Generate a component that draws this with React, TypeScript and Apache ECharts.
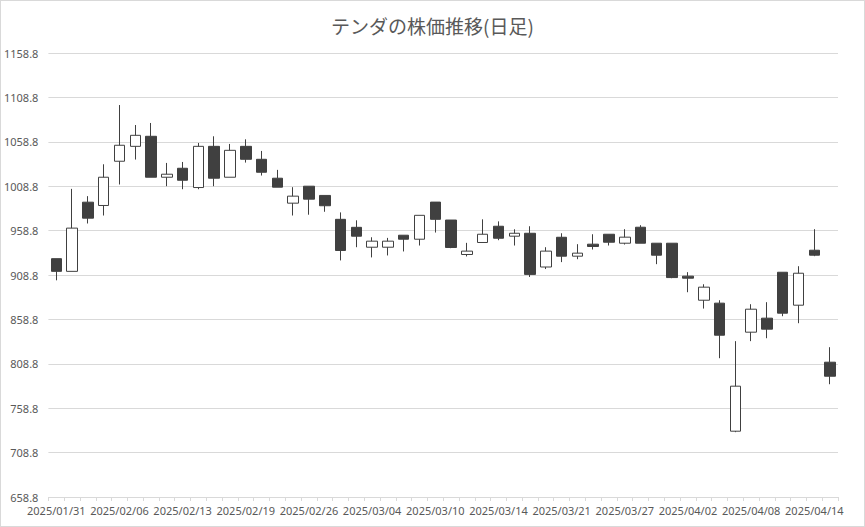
import React, { useEffect, useRef } from "react";
import * as echarts from "echarts";

const dates = [
  "2025/01/31", "2025/02/03", "2025/02/04", "2025/02/05", "2025/02/06", "2025/02/07", "2025/02/10", "2025/02/12",
  "2025/02/13", "2025/02/14", "2025/02/17", "2025/02/18", "2025/02/19", "2025/02/20", "2025/02/21", "2025/02/25",
  "2025/02/26", "2025/02/27", "2025/02/28", "2025/03/03", "2025/03/04", "2025/03/05", "2025/03/06", "2025/03/07",
  "2025/03/10", "2025/03/11", "2025/03/12", "2025/03/13", "2025/03/14", "2025/03/17", "2025/03/18", "2025/03/19",
  "2025/03/21", "2025/03/24", "2025/03/25", "2025/03/26", "2025/03/27", "2025/03/28", "2025/03/31", "2025/04/01",
  "2025/04/02", "2025/04/03", "2025/04/04", "2025/04/07", "2025/04/08", "2025/04/09", "2025/04/10", "2025/04/11",
  "2025/04/14", "2025/04/15",
];

const opens = [
  927.2, 912.9, 990.8, 987.1, 1036.9, 1053.7, 1065.0, 1018.9, 1029.0, 1007.3,
  1053.7, 1018.9, 1053.7, 1039.1, 1017.8, 989.7, 1008.8, 998.4, 971.5, 962.5,
  940.1, 940.1, 953.6, 949.1, 990.9, 970.7, 931.9, 945.4, 963.7, 952.5,
  955.8, 917.8, 951.3, 930.0, 943.5, 954.7, 944.6, 962.6, 944.6, 944.6,
  907.5, 880.4, 877.1, 732.9, 844.4, 860.2, 911.9, 874.8, 936.7, 810.6,
];

const closes = [
  912.9, 961.6, 972.8, 1018.9, 1054.9, 1066.1, 1018.9, 1022.3, 1015.5, 1053.7,
  1017.8, 1049.2, 1039.1, 1024.5, 1007.7, 997.6, 994.2, 986.8, 936.4, 952.5,
  946.9, 946.9, 949.1, 976.0, 971.5, 939.8, 935.7, 954.7, 950.2, 955.8,
  909.5, 935.7, 930.0, 933.4, 940.9, 945.7, 951.4, 944.6, 931.1, 905.9,
  905.2, 895.1, 841.0, 783.6, 870.3, 847.8, 865.8, 910.8, 931.1, 794.8,
];

const lows = [
  902.8, 912.9, 966.8, 975.8, 1010.7, 1038.8, 1018.9, 1008.8, 1005.4, 1005.4,
  1008.8, 1018.9, 1035.4, 1020.8, 1007.7, 975.8, 976.7, 980.0, 925.2, 940.1,
  928.6, 930.8, 935.3, 942.0, 956.6, 939.0, 929.7, 945.4, 948.0, 942.0,
  906.6, 915.5, 923.3, 926.6, 937.5, 942.0, 943.1, 944.6, 921.0, 905.2,
  889.4, 871.0, 815.1, 731.8, 834.3, 837.6, 862.4, 854.5, 930.0, 785.8,
];

const highs = [
  927.2, 1005.8, 997.6, 1033.5, 1100.2, 1077.7, 1080.0, 1035.0, 1036.1, 1057.5,
  1065.0, 1056.4, 1061.6, 1048.5, 1027.2, 1007.7, 1008.8, 998.4, 979.3, 970.4,
  951.3, 950.6, 953.6, 976.0, 990.9, 970.7, 945.0, 971.5, 969.2, 960.3,
  963.7, 940.1, 955.8, 943.5, 954.7, 954.7, 960.4, 964.9, 944.6, 944.6,
  912.0, 898.4, 880.4, 834.3, 875.9, 878.2, 911.9, 918.7, 960.4, 827.5,
];

const yMin = 658.8;
const yMax = 1158.8;
const yStep = 50;
const titleText = "テンダの株価推移(日足)";

export default function App() {
  const ref = useRef<HTMLDivElement>(null);

  useEffect(() => {
    if (!ref.current) return;
    const chart = echarts.init(ref.current, undefined, { renderer: "svg" });
    const data = opens.map((o, i) => [o, closes[i], lows[i], highs[i]]);
    chart.setOption({
      animation: false,
      backgroundColor: "#ffffff",
      title: {
        text: titleText,
        left: "center",
        top: 10,
        textStyle: {
          color: "#595959",
          fontSize: 19,
          fontWeight: "normal",
          fontFamily: "Noto Sans CJK JP",
        },
      },
      grid: { left: 45, right: 26, top: 52, bottom: 29, containLabel: false },
      xAxis: {
        type: "category",
        data: dates,
        boundaryGap: true,
        axisLine: { lineStyle: { color: "#d9d9d9", width: 1 } },
        axisTick: { show: true, interval: 0, length: 4, lineStyle: { color: "#d9d9d9" } },
        axisLabel: {
          interval: 3,
          color: "#595959",
          fontSize: 11,
          fontFamily: "Noto Sans",
          margin: 8,
        },
        splitLine: { show: false },
      },
      yAxis: {
        type: "value",
        min: yMin,
        max: yMax,
        interval: yStep,
        axisLine: { show: false },
        axisTick: { show: false },
        axisLabel: {
          color: "#595959",
          fontSize: 11,
          fontFamily: "Noto Sans",
          margin: 10,
          formatter: (v: number) => v.toFixed(1),
        },
        splitLine: { lineStyle: { color: "#d9d9d9", width: 1 } },
      },
      series: [
        {
          type: "candlestick",
          data,
          barWidth: 11,
          itemStyle: {
            color: "#ffffff",
            color0: "#404040",
            borderColor: "#404040",
            borderColor0: "#404040",
            borderWidth: 1,
          },
        },
      ],
    });
    return () => chart.dispose();
  }, []);

  return (
    <div
      style={{
        position: "fixed",
        left: 0,
        top: 0,
        width: 865,
        height: 527,
        border: "1px solid #d9d9d9",
        boxSizing: "border-box",
        background: "#fff",
      }}
    >
      <div ref={ref} style={{ width: 863, height: 525 }} />
    </div>
  );
}
